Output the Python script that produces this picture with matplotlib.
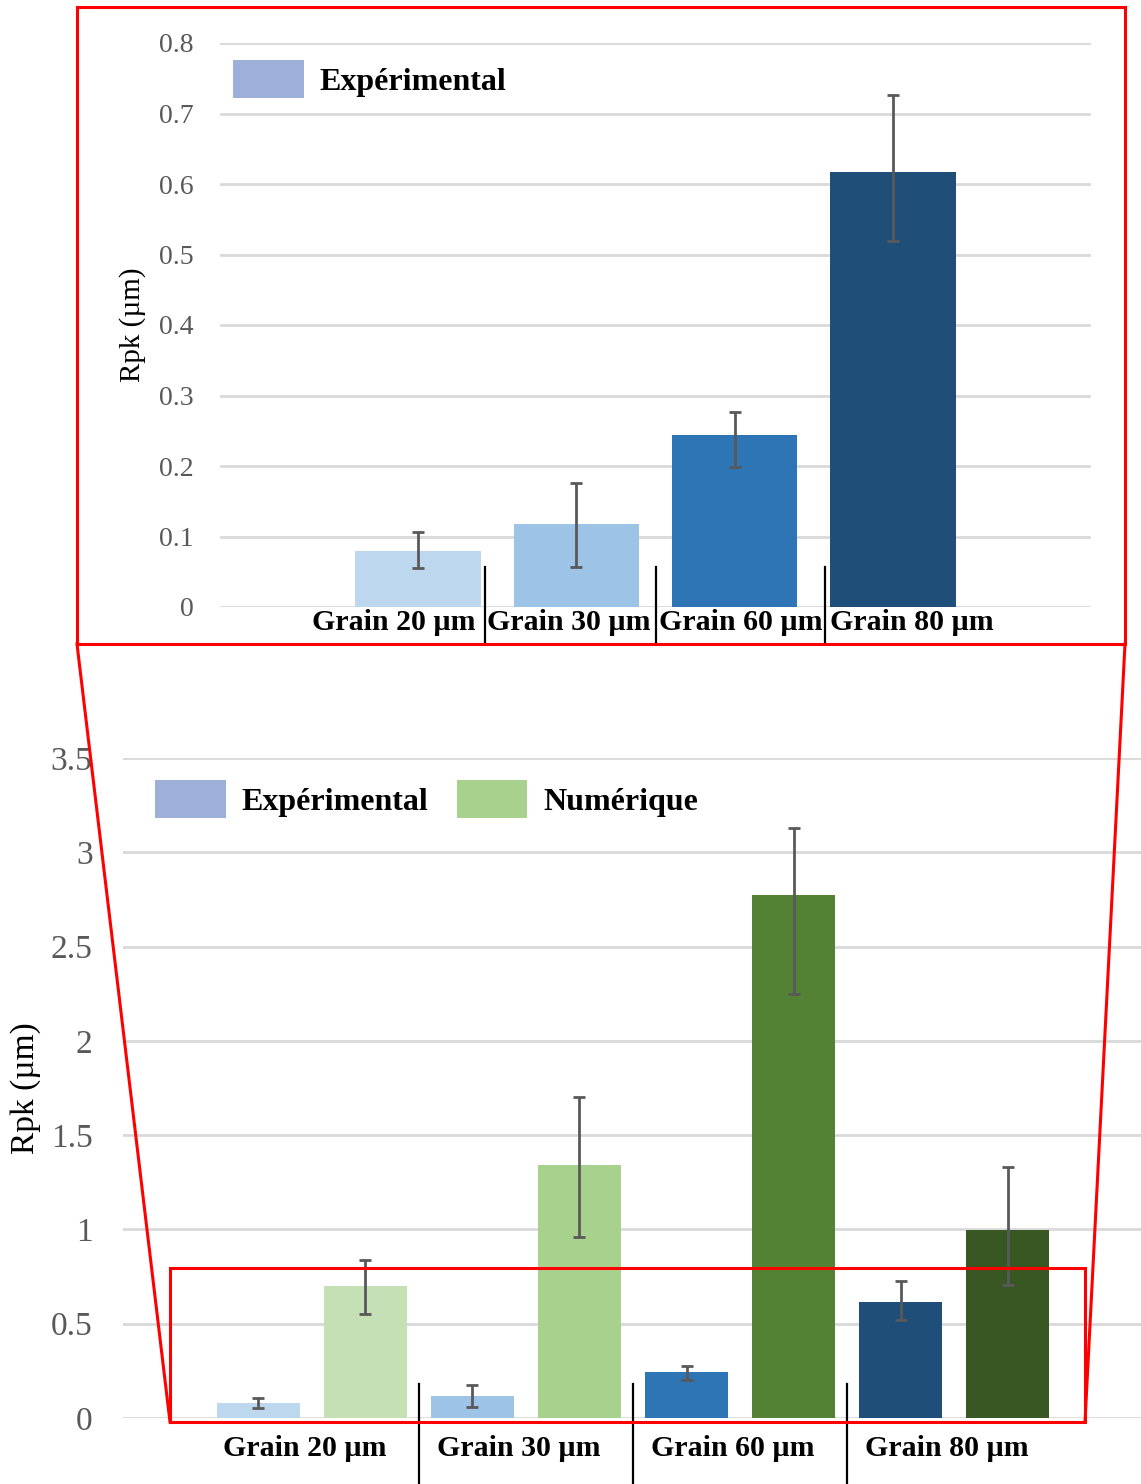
import matplotlib
matplotlib.use("Agg")
import matplotlib.pyplot as plt
import numpy as np
from matplotlib.patches import Patch, Rectangle
from matplotlib.lines import Line2D
from matplotlib.ticker import FuncFormatter

plt.rcParams['font.family'] = ['Liberation Serif', 'DejaVu Serif']

# ---- data ----
categories = ["Grain 20 µm", "Grain 30 µm", "Grain 60 µm", "Grain 80 µm"]
exp_values = [0.079, 0.118, 0.244, 0.617]
exp_err_low = [0.024, 0.061, 0.045, 0.098]
exp_err_high = [0.027, 0.058, 0.033, 0.109]
num_values = [0.70, 1.34, 2.773, 0.997]
num_err_low = [0.149, 0.381, 0.525, 0.292]
num_err_high = [0.138, 0.361, 0.355, 0.334]
exp_colors = ["#BDD7EE", "#9DC3E6", "#2E75B6", "#1F4E79"]
num_colors = ["#C5E0B4", "#A9D18E", "#548235", "#385723"]
top_yticks = [0, 0.1, 0.2, 0.3, 0.4, 0.5, 0.6, 0.7, 0.8]
bot_yticks = [0, 0.5, 1, 1.5, 2, 2.5, 3, 3.5]
ylabel = "Rpk (µm)"
legend_exp = "Expérimental"
legend_num = "Numérique"

W, H = 1141, 1484
fig = plt.figure(figsize=(W / 100, H / 100), dpi=100)

def fx(px):
    return px / W

def fy(py):
    return 1 - py / H

GRID = "#D9D9D9"
TICKC = "#595959"
ERRC = "#595959"
fmt = FuncFormatter(lambda v, p: f"{v:g}")
LBL_SIZE = 21.5
LEG_SIZE = 23
CAP = 4.5

# ---- top panel ----
ax1 = fig.add_axes([fx(220), fy(607), fx(1091) - fx(220), fy(43) - fy(607)])
x1 = np.arange(len(categories))
ax1.bar(x1, exp_values, width=0.79, color=exp_colors, zorder=2)
ax1.errorbar(x1, exp_values, yerr=[exp_err_low, exp_err_high], fmt="none",
             ecolor=ERRC, elinewidth=2, capsize=CAP, capthick=2, zorder=3)
ax1.set_xlim(-1.25, 4.25)
ax1.set_ylim(0, 0.8)
ax1.set_yticks(top_yticks)
ax1.yaxis.set_major_formatter(fmt)
ax1.set_xticks([])
ax1.grid(axis="y", color=GRID, linewidth=2, zorder=0)
for s in ax1.spines.values():
    s.set_visible(False)
ax1.tick_params(axis="y", length=0, labelsize=20, labelcolor=TICKC, pad=19)
ax1.set_ylabel(ylabel, fontsize=21, va="center")
ax1.yaxis.set_label_coords((133 - 220) / 871, (607 - 325) / 564)
ax1.legend(handles=[Patch(facecolor="#9DB0DA", edgecolor="none", label=legend_exp)],
           loc="upper left", bbox_to_anchor=(fx(227), fy(54)),
           bbox_transform=fig.transFigure, frameon=False,
           prop={"size": LEG_SIZE, "weight": "bold"},
           handlelength=2.2, handleheight=1.45, handletextpad=0.5,
           borderaxespad=0, borderpad=0.2)

# top category labels (placed as in the reference)
top_lbl = [(476, "right"), (487, "left"), (659, "left"), (830, "left")]
for (px, ha), lab in zip(top_lbl, categories):
    fig.text(fx(px), fy(623), lab, ha=ha, va="center", fontsize=LBL_SIZE,
             fontweight="bold")
for px in [485, 656, 825]:
    fig.add_artist(Line2D([fx(px), fx(px)], [fy(567), fy(642)],
                          color="black", linewidth=1.6))

# ---- bottom panel ----
ax2 = fig.add_axes([fx(123), fy(1418), fx(1143) - fx(123), fy(758) - fy(1418)])
x2 = np.arange(len(categories))
off = 0.25
bw = 0.39
ax2.bar(x2 - off, exp_values, width=bw, color=exp_colors, zorder=2)
ax2.bar(x2 + off, num_values, width=bw, color=num_colors, zorder=2)
ax2.errorbar(x2 - off, exp_values, yerr=[exp_err_low, exp_err_high], fmt="none",
             ecolor=ERRC, elinewidth=2, capsize=CAP, capthick=2, zorder=3)
ax2.errorbar(x2 + off, num_values, yerr=[num_err_low, num_err_high], fmt="none",
             ecolor=ERRC, elinewidth=2, capsize=CAP, capthick=2, zorder=3)
ax2.set_xlim(-0.883, 3.883)
ax2.set_ylim(0, 3.5)
ax2.set_yticks(bot_yticks)
ax2.yaxis.set_major_formatter(fmt)
ax2.set_xticks(x2 - 0.035)
ax2.set_xticklabels(categories, fontsize=LBL_SIZE, fontweight="bold")
ax2.tick_params(axis="x", length=0, pad=12)
ax2.grid(axis="y", color=GRID, linewidth=2, zorder=0)
for s in ax2.spines.values():
    s.set_visible(False)
ax2.tick_params(axis="y", length=0, labelsize=24, labelcolor=TICKC, pad=22)
ax2.set_ylabel(ylabel, fontsize=24, va="center")
ax2.yaxis.set_label_coords((26 - 123) / 1020, (1418 - 1088) / 660)
ax2.legend(handles=[Patch(facecolor="#9DB0DA", edgecolor="none", label=legend_exp),
                    Patch(facecolor="#A9D18E", edgecolor="none", label=legend_num)],
           loc="upper left", bbox_to_anchor=(fx(149), fy(774)),
           bbox_transform=fig.transFigure, frameon=False, ncol=2,
           prop={"size": LEG_SIZE, "weight": "bold"},
           handlelength=2.2, handleheight=1.45, handletextpad=0.5,
           columnspacing=0.9, borderaxespad=0, borderpad=0.2)
xt = ax2.get_xaxis_transform()
for xs in [0.5, 1.5, 2.5]:
    ax2.plot([xs, xs], [(1418 - 1384) / 660, -0.11], transform=xt,
             color="black", linewidth=1.6, clip_on=False)

# ---- red zoom annotation ----
RED = "#FF0000"
fig.add_artist(Rectangle((fx(77), fy(644)), fx(1125) - fx(77), fy(7) - fy(644),
                         fill=False, edgecolor=RED, linewidth=2.2,
                         transform=fig.transFigure))
fig.add_artist(Rectangle((fx(170), fy(1422)), fx(1085) - fx(170), fy(1268) - fy(1422),
                         fill=False, edgecolor=RED, linewidth=2.2,
                         transform=fig.transFigure))
fig.add_artist(Line2D([fx(77), fx(170)], [fy(644), fy(1422)], color=RED, linewidth=2.2))
fig.add_artist(Line2D([fx(1125), fx(1085)], [fy(644), fy(1422)], color=RED, linewidth=2.2))

fig.savefig("out.png", dpi=100, facecolor="white")
